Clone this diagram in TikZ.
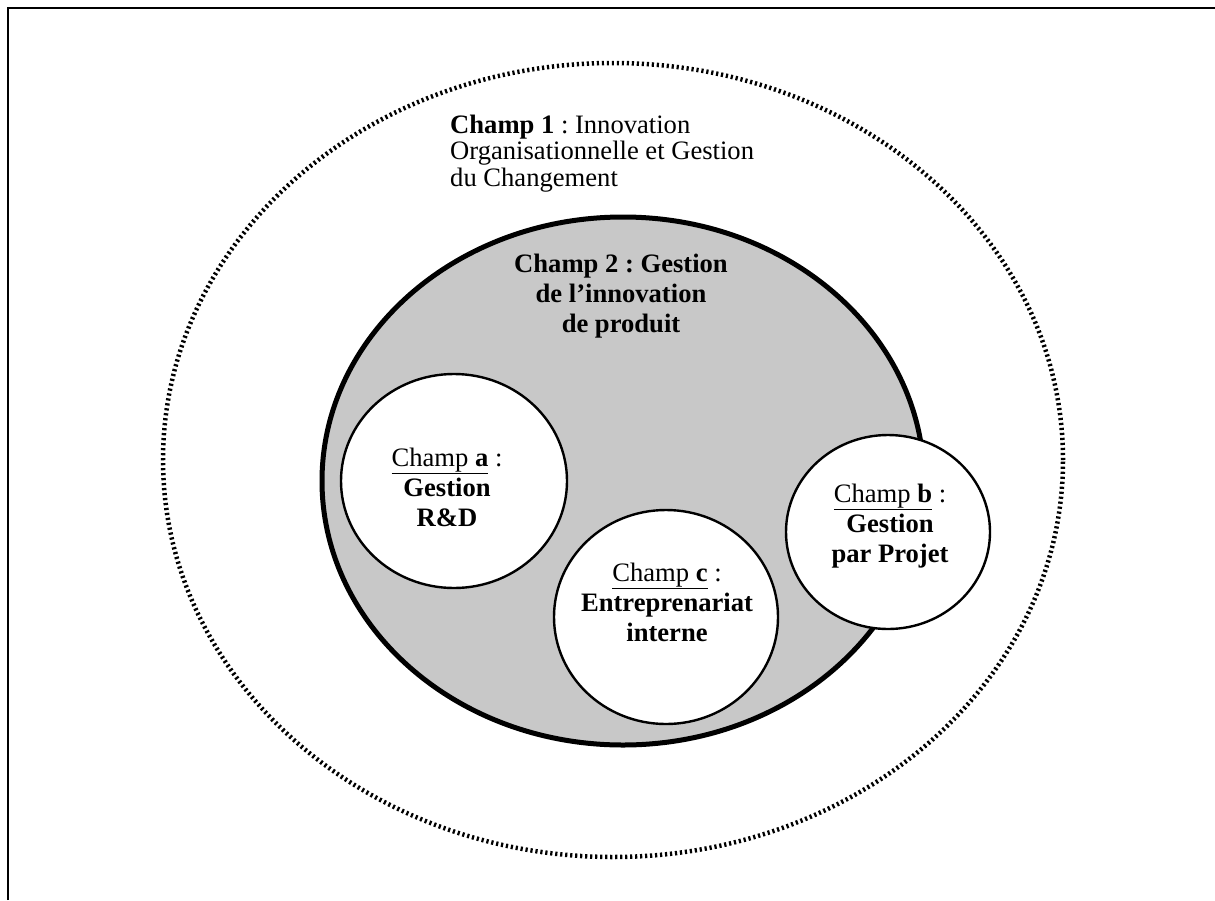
\documentclass[tikz,border=0pt]{standalone}
\usepackage{fontspec}
\setmainfont{Liberation Serif}
\usetikzlibrary{shapes.geometric}
\definecolor{zonegray}{HTML}{C8C8C8}
\frenchspacing
\begin{document}
\begin{tikzpicture}[x=1pt,y=-1pt,
  txt/.style={font=\fontsize{26.6pt}{30pt}\selectfont, inner sep=0pt, align=center},
  txtone/.style={font=\fontsize{26.6pt}{26.5pt}\selectfont, inner sep=0pt, align=left, anchor=west},
  subzone/.style={ellipse, draw=black, line width=2.4pt, fill=white, inner sep=0pt},
  dotzone/.style={ellipse, draw=black, line width=4.5pt, dash pattern=on 2.2pt off 2.8pt, inner sep=0pt},
  mainzone/.style={ellipse, draw=black, line width=5pt, fill=zonegray, inner sep=0pt}
]
\useasboundingbox (0,0) rectangle (1215,900);
\draw[line width=2pt] (8,900) -- (8,8) -- (1215,8);

\node[dotzone, minimum width=900pt, minimum height=794pt] (c1) at (613,460) {};
\node[mainzone, minimum width=602pt, minimum height=528pt] (c2) at (623,481) {};

\node[subzone, minimum width=226pt, minimum height=214pt] (ca) at (454,481) {};
\node[subzone, minimum width=224pt, minimum height=214pt] (cc) at (666,617) {};
\node[subzone, minimum width=204pt, minimum height=194pt] (cb) at (888,532) {};

\node[txtone] (t1) at (450,153.5) {\textbf{Champ 1} : Innovation\\Organisationnelle et Gestion\\du Changement};
\node[txt] (t2) at (621,296) {\textbf{Champ 2 : Gestion}\\\textbf{de l'innovation}\\\textbf{de produit}};
\node[txt] (ta) at (447,487) {\underline{Champ \textbf{a}} :\\\textbf{Gestion}\\\textbf{R\&D}};
\node[txt] (tb) at (890,526) {\underline{Champ \textbf{b}} :\\\textbf{Gestion}\\\textbf{par Projet}};
\node[txt] (tc) at (667,602) {\underline{Champ \textbf{c}} :\\\textbf{Entreprenariat}\\\textbf{interne}};
\end{tikzpicture}
\end{document}
